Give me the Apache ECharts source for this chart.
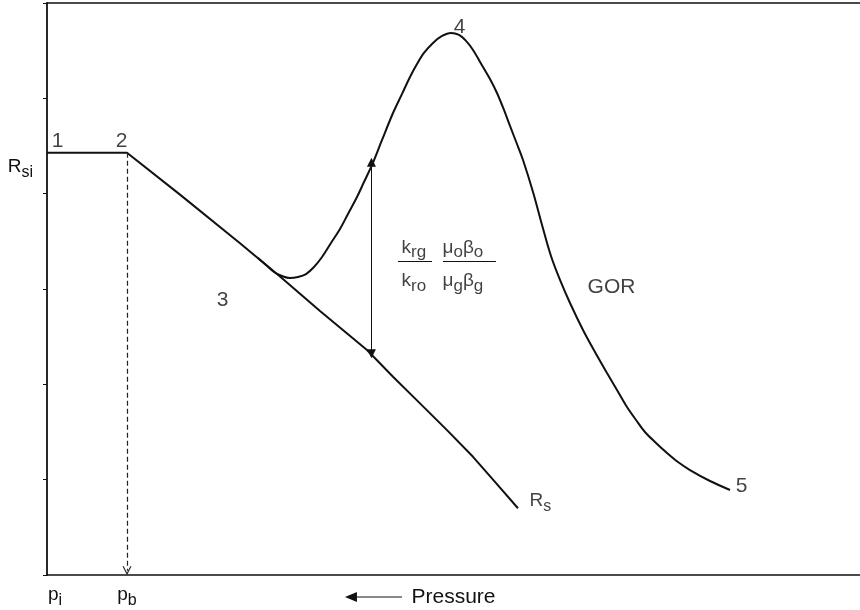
<!DOCTYPE html>
<html><head><meta charset="utf-8">
<script src="https://cdn.jsdelivr.net/npm/echarts@6/dist/echarts.min.js"></script>
<style>html,body{margin:0;padding:0;background:#fff}#c{width:860px;height:610px}</style>
</head><body><div id="c"></div>
<script>
// ---- data (x: pressure units 0..100, decreasing pressure to the right; y: gas-oil ratio units 0..6)
const rsiValue = 4.43;           // initial solution GOR (R_si)
const pbValue = 9.84;            // bubble-point position
const yTicks = [0, 1, 2, 3, 4, 5, 6];
const rsX = [0, 9.84, 16.36, 23.74, 28.66, 33.58, 39.36, 42.56, 45.88, 49.20, 52.40, 54.86, 57.93];
const rsY = [4.43, 4.43, 3.99, 3.48, 3.13, 2.77, 2.36, 2.08, 1.80, 1.52, 1.24, 1.00, 0.70];
const gorX = [25.95, 26.94, 27.92, 28.91, 29.89, 30.87, 31.86, 32.84, 33.83, 34.93, 36.04, 37.02, 38.13, 38.99, 39.98, 41.21, 42.56, 43.67, 44.65, 45.51, 46.37, 47.48, 48.59, 49.69, 50.68, 51.54, 52.40, 53.63, 54.49, 55.35, 56.21, 56.95, 57.81, 58.55, 59.78, 60.89, 61.99, 63.10, 64.33, 65.93, 67.40, 68.88, 70.11, 71.34, 72.45, 73.55, 74.91, 76.26, 77.61, 79.09, 81.55, 84.01];
const gorY = [3.325, 3.252, 3.178, 3.136, 3.115, 3.126, 3.157, 3.231, 3.336, 3.483, 3.630, 3.787, 3.965, 4.122, 4.301, 4.563, 4.846, 5.046, 5.224, 5.360, 5.476, 5.581, 5.654, 5.686, 5.665, 5.602, 5.507, 5.329, 5.203, 5.056, 4.878, 4.710, 4.521, 4.353, 4.018, 3.671, 3.346, 3.095, 2.853, 2.570, 2.339, 2.119, 1.941, 1.762, 1.626, 1.500, 1.385, 1.280, 1.185, 1.101, 0.986, 0.892];
const ratioArrowX = 39.91;
const ratioArrowTop = 4.33;
const ratioArrowBottom = 2.32;
const pressureArrowX = [36.65, 43.67];
// annotations: [rich text, x, y, align]
const notes = [
  ['{d|1}', 1.35, 4.55, 'center'],
  ['{d|2}', 9.23, 4.55, 'center'],
  ['{d|3}', 21.65, 2.88, 'center'],
  ['{d|4}', 50.8, 5.74, 'center'],
  ['{d|5}', 85.49, 0.93, 'center'],
  ['{d|GOR}', 69.5, 3.01, 'center'],
  ['{m|R}{sub|s}', 59.4, 0.77, 'left'],
  ['{f|k}{fs|rg}', 43.67, 3.43, 'left'],
  ['{f|k}{fs|ro}', 43.67, 3.08, 'left'],
  ['{f|μ}{fs|o}{f|β}{fs|o}', 48.71, 3.43, 'left'],
  ['{f|μ}{fs|g}{f|β}{fs|g}', 48.71, 3.08, 'left']
];
const fractionBars = [[43.17, 47.36, 3.29], [48.71, 55.23, 3.29]];

// ---- styles
const FONT = 'Liberation Sans, Arial, Helvetica, sans-serif';
const INK = '#111';
const rich = {
  d: {fontSize: 21, fontFamily: FONT, color: INK},
  m: {fontSize: 19, fontFamily: FONT, color: INK, lineHeight: 28},
  sub: {fontSize: 16, fontFamily: FONT, color: INK, lineHeight: 16, verticalAlign: 'bottom'},
  f: {fontSize: 19, fontFamily: FONT, color: INK, lineHeight: 27},
  fs: {fontSize: 17, fontFamily: FONT, color: INK, lineHeight: 17, verticalAlign: 'bottom'},
  pad: {width: 16},
};

const rsData = rsX.map((x, i) => [x, rsY[i]]);
const gorData = gorX.map((x, i) => [x, gorY[i]]);

const chevron = 'path://M0,10 L5,0 L10,10 L8.6,10 L5,2.6 L1.4,10 Z';

const option = {
  animation: false,
  backgroundColor: '#fff',
  grid: {left: 47, right: 0, top: 3, bottom: 35, containLabel: false, outerBoundsMode: 'none'},
  xAxis: [{
    type: 'value', min: 0, max: 100,
    splitLine: {show: false},
    axisTick: {show: false},
    axisLine: {lineStyle: {color: INK, width: 1.5}},
    axisLabel: {
      customValues: [0, pbValue], margin: 6,
      formatter: v => v === 0 ? '{pad|}{m|p}{sub|i}' : '{m|p}{sub|b}',
      rich: rich
    },
    name: 'Pressure', nameLocation: 'middle', nameGap: 22, nameMoveOverlap: false,
    nameTextStyle: {fontSize: 21, fontFamily: FONT, color: INK, verticalAlign: 'middle'}
  }, {
    type: 'value', min: 0, max: 100, position: 'top',
    splitLine: {show: false}, axisTick: {show: false}, axisLabel: {show: false},
    axisLine: {show: true, lineStyle: {color: INK, width: 1.5}}
  }],
  yAxis: {
    type: 'value', min: 0, max: 6, interval: 1,
    splitLine: {show: false},
    axisLine: {show: true, lineStyle: {color: INK, width: 1.8}},
    axisTick: {show: true, inside: false, length: 4, customValues: yTicks, lineStyle: {color: INK, width: 1}},
    axisLabel: {customValues: [rsiValue], margin: 14, verticalAlign: 'top', formatter: () => '{m|R}{sub|si}', rich: rich}
  },
  series: [
    {
      name: 'Rs', type: 'line', data: rsData, symbol: 'none', smooth: false,
      lineStyle: {color: INK, width: 2}, z: 3
    },
    {
      name: 'GOR', type: 'line', data: gorData, symbol: 'none', smooth: 0.35,
      lineStyle: {color: INK, width: 2}, z: 3
    },
    {
      name: 'marks', type: 'line', data: [], symbol: 'none',
      markLine: {
        silent: true, animation: false,
        label: {show: false},
        data: [
          [
            {coord: [pbValue, rsiValue], symbol: 'none', lineStyle: {color: '#222', width: 1.2, type: [5, 3]}},
            {coord: [pbValue, 0.045], symbol: chevron, symbolSize: 9}
          ],
          [
            {coord: [ratioArrowX, ratioArrowBottom], symbol: 'triangle', symbolSize: 9, lineStyle: {color: INK, width: 1, type: 'solid'}},
            {coord: [ratioArrowX, ratioArrowTop], symbol: 'triangle', symbolSize: 9}
          ],
          ...fractionBars.map(b => [
            {coord: [b[0], b[2]], symbol: 'none', lineStyle: {color: INK, width: 1, type: 'solid'}},
            {coord: [b[1], b[2]], symbol: 'none'}
          ])
        ],
        itemStyle: {color: INK}
      }
    },
    {
      name: 'notes', type: 'scatter', symbolSize: 1, clip: false,
      itemStyle: {color: 'rgba(0,0,0,0)'},
      data: notes.map(n => ({
        value: [n[1], n[2]],
        label: {
          show: true, position: [0, 0], formatter: n[0], rich: rich,
          align: n[3], verticalAlign: 'middle'
        }
      })),
      z: 5
    }
  ]
};

const chart = echarts.init(document.getElementById('c'), null, {renderer: 'canvas'});
chart.setOption(option);

const a0 = chart.convertToPixel({gridIndex: 0}, [pressureArrowX[0], 0]);
const a1 = chart.convertToPixel({gridIndex: 0}, [pressureArrowX[1], 0]);
const ay = a0[1] + 22;
chart.setOption({
  graphic: [
    {type: 'line', shape: {x1: a0[0] + 10, y1: ay, x2: a1[0], y2: ay}, style: {stroke: INK, lineWidth: 1}},
    {type: 'polygon', shape: {points: [[a0[0], ay], [a0[0] + 12, ay - 5], [a0[0] + 12, ay + 5]]}, style: {fill: INK}}
  ]
});
</script>
</body></html>
